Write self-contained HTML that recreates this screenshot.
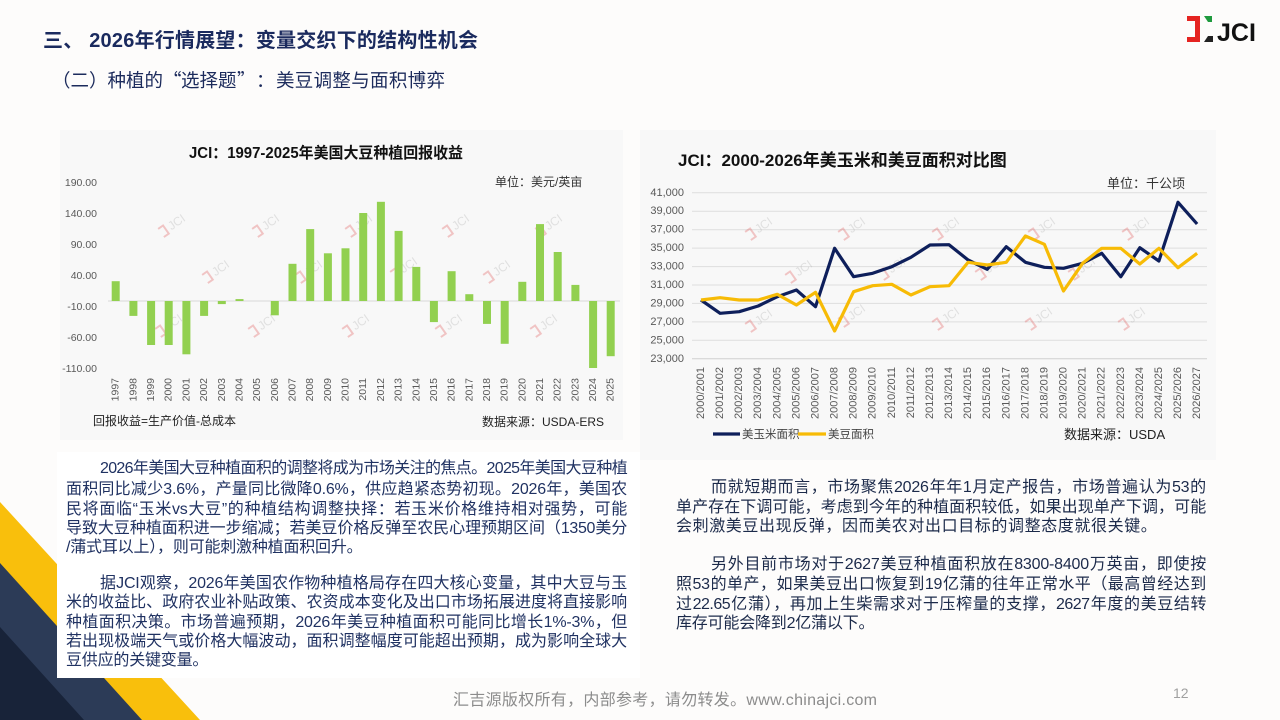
<!DOCTYPE html>
<html><head><meta charset="utf-8"><style>
html,body{margin:0;padding:0;}
body{width:1280px;height:720px;position:relative;overflow:hidden;background:#fdfcfb;font-family:"Liberation Sans","Noto Sans CJK SC",sans-serif;}
svg{position:absolute;left:0;top:0;}
.l{position:absolute;height:20px;line-height:20px;font-size:16px;white-space:nowrap;text-align:justify;text-align-last:justify;letter-spacing:-0.2px;}
.lp{left:66px;width:561px;color:#203262;}
.lpi{left:100px;width:527px;color:#203262;}
.rp{left:676px;width:530px;color:#1c2a4a;}
.rpi{left:711px;width:495px;color:#1c2a4a;}
.last{text-align-last:left;}
</style></head><body>
<svg width="1280" height="720" viewBox="0 0 1280 720" xmlns="http://www.w3.org/2000/svg" font-family="Liberation Sans, Noto Sans CJK SC, sans-serif">
<!-- decoration -->
<polygon points="0,502 200,720 0,720" fill="#f9bf0c"/>
<polygon points="0,563 142,720 0,720" fill="#2c3b57"/>
<polygon points="0,627 84,720 0,720" fill="#182339"/>
<rect x="57" y="452" width="583" height="226" fill="#ffffff"/>

<!-- header -->
<text x="43" y="47" font-size="20" font-weight="bold" fill="#1a2a5e" textLength="435" lengthAdjust="spacing">三、 2026年行情展望：变量交织下的结构性机会</text>
<g font-size="18.5" fill="#1c2b5c" font-family="Noto Sans CJK SC, Liberation Sans, sans-serif">
<text x="52" y="87">（二）种植的</text>
<text x="163" y="87">“</text>
<text x="181" y="87">选择题</text>
<text x="237" y="87">”</text>
<text x="256" y="87">：</text>
<text x="276" y="87" textLength="169" lengthAdjust="spacing">美豆调整与面积博弈</text>
</g>

<!-- logo -->
<polygon points="1187,16 1200,16 1200,42 1187,42 1187,37 1195,37 1195,21 1187,21" fill="#e52421"/>
<polygon points="1204,16 1212,16 1212,22 1208,22" fill="#1f9a3e"/>
<polygon points="1204,42 1213,42 1213,36 1208,36" fill="#222"/>
<text x="1217" y="41" font-size="25" font-weight="bold" fill="#111">JCI</text>

<!-- panels -->
<rect x="60" y="130" width="563" height="310" fill="#f8f8f8"/>
<rect x="640" y="130" width="576" height="330" fill="#f8f8f8"/>

<!-- LEFT CHART -->
<text x="189" y="158" font-size="15.5" font-weight="bold" fill="#111" textLength="274" lengthAdjust="spacingAndGlyphs">JCI：1997-2025年美国大豆种植回报收益</text>
<text x="495" y="186" font-size="12" fill="#333">单位：美元/英亩</text>
<g font-size="10.5" fill="#595959" text-anchor="end" dominant-baseline="central">
<text x="97" y="183.2">190.00</text>
<text x="97" y="214.2">140.00</text>
<text x="97" y="245.2">90.00</text>
<text x="97" y="276.2">40.00</text>
<text x="97" y="307.2">-10.00</text>
<text x="97" y="338.2">-60.00</text>
<text x="97" y="369.2">-110.00</text>
</g>
<!-- watermarks left -->
<g opacity="0.3" font-size="12" fill="#aaa">
<g transform="translate(161,233) rotate(-35)"><path d="M0,-5 h6 v10 h-6" stroke="#e05050" stroke-width="2" fill="none"/><text x="10" y="4">JCI</text></g>
<g transform="translate(255,233) rotate(-35)"><path d="M0,-5 h6 v10 h-6" stroke="#e05050" stroke-width="2" fill="none"/><text x="10" y="4">JCI</text></g>
<g transform="translate(348,233) rotate(-35)"><path d="M0,-5 h6 v10 h-6" stroke="#e05050" stroke-width="2" fill="none"/><text x="10" y="4">JCI</text></g>
<g transform="translate(445,233) rotate(-35)"><path d="M0,-5 h6 v10 h-6" stroke="#e05050" stroke-width="2" fill="none"/><text x="10" y="4">JCI</text></g>
<g transform="translate(538,233) rotate(-35)"><path d="M0,-5 h6 v10 h-6" stroke="#e05050" stroke-width="2" fill="none"/><text x="10" y="4">JCI</text></g>
<g transform="translate(205,279) rotate(-35)"><path d="M0,-5 h6 v10 h-6" stroke="#e05050" stroke-width="2" fill="none"/><text x="10" y="4">JCI</text></g>
<g transform="translate(298,279) rotate(-35)"><path d="M0,-5 h6 v10 h-6" stroke="#e05050" stroke-width="2" fill="none"/><text x="10" y="4">JCI</text></g>
<g transform="translate(393,276) rotate(-35)"><path d="M0,-5 h6 v10 h-6" stroke="#e05050" stroke-width="2" fill="none"/><text x="10" y="4">JCI</text></g>
<g transform="translate(486,279) rotate(-35)"><path d="M0,-5 h6 v10 h-6" stroke="#e05050" stroke-width="2" fill="none"/><text x="10" y="4">JCI</text></g>
<g transform="translate(158,333) rotate(-35)"><path d="M0,-5 h6 v10 h-6" stroke="#e05050" stroke-width="2" fill="none"/><text x="10" y="4">JCI</text></g>
<g transform="translate(251,333) rotate(-35)"><path d="M0,-5 h6 v10 h-6" stroke="#e05050" stroke-width="2" fill="none"/><text x="10" y="4">JCI</text></g>
<g transform="translate(345,333) rotate(-35)"><path d="M0,-5 h6 v10 h-6" stroke="#e05050" stroke-width="2" fill="none"/><text x="10" y="4">JCI</text></g>
<g transform="translate(438,333) rotate(-35)"><path d="M0,-5 h6 v10 h-6" stroke="#e05050" stroke-width="2" fill="none"/><text x="10" y="4">JCI</text></g>
<g transform="translate(533,333) rotate(-35)"><path d="M0,-5 h6 v10 h-6" stroke="#e05050" stroke-width="2" fill="none"/><text x="10" y="4">JCI</text></g>
</g>
<line x1="108" y1="301" x2="620" y2="301" stroke="#d9d9d9" stroke-width="1"/>
<g fill="#92d050">
<rect x="111.7" y="281.2" width="8" height="19.8"/>
<rect x="129.4" y="301" width="8" height="14.9"/>
<rect x="147.1" y="301" width="8" height="44"/>
<rect x="164.7" y="301" width="8" height="44"/>
<rect x="182.4" y="301" width="8" height="53.3"/>
<rect x="200.1" y="301" width="8" height="14.9"/>
<rect x="217.8" y="301" width="8" height="3.1"/>
<rect x="235.5" y="299.1" width="8" height="1.9"/>
<rect x="270.8" y="301" width="8" height="14.3"/>
<rect x="288.5" y="263.8" width="8" height="37.2"/>
<rect x="306.2" y="229.1" width="8" height="71.9"/>
<rect x="323.9" y="253.3" width="8" height="47.7"/>
<rect x="341.5" y="248.3" width="8" height="52.7"/>
<rect x="359.2" y="213" width="8" height="88"/>
<rect x="376.9" y="201.8" width="8" height="99.2"/>
<rect x="394.6" y="230.9" width="8" height="70.1"/>
<rect x="412.3" y="266.9" width="8" height="34.1"/>
<rect x="429.9" y="301" width="8" height="21.1"/>
<rect x="447.6" y="271.2" width="8" height="29.8"/>
<rect x="465.3" y="294.2" width="8" height="6.8"/>
<rect x="483" y="301" width="8" height="22.9"/>
<rect x="500.7" y="301" width="8" height="42.8"/>
<rect x="518.3" y="281.8" width="8" height="19.2"/>
<rect x="536" y="224.1" width="8" height="76.9"/>
<rect x="553.7" y="252" width="8" height="49"/>
<rect x="571.4" y="284.9" width="8" height="16.1"/>
<rect x="589.1" y="301" width="8" height="67"/>
<rect x="606.7" y="301" width="8" height="55.2"/>
</g>
<g font-size="10.5" fill="#595959" text-anchor="end" dominant-baseline="central">
<text transform="translate(115.7,378) rotate(-90)">1997</text>
<text transform="translate(133.4,378) rotate(-90)">1998</text>
<text transform="translate(151.1,378) rotate(-90)">1999</text>
<text transform="translate(168.7,378) rotate(-90)">2000</text>
<text transform="translate(186.4,378) rotate(-90)">2001</text>
<text transform="translate(204.1,378) rotate(-90)">2002</text>
<text transform="translate(221.8,378) rotate(-90)">2003</text>
<text transform="translate(239.5,378) rotate(-90)">2004</text>
<text transform="translate(257.1,378) rotate(-90)">2005</text>
<text transform="translate(274.8,378) rotate(-90)">2006</text>
<text transform="translate(292.5,378) rotate(-90)">2007</text>
<text transform="translate(310.2,378) rotate(-90)">2008</text>
<text transform="translate(327.9,378) rotate(-90)">2009</text>
<text transform="translate(345.5,378) rotate(-90)">2010</text>
<text transform="translate(363.2,378) rotate(-90)">2011</text>
<text transform="translate(380.9,378) rotate(-90)">2012</text>
<text transform="translate(398.6,378) rotate(-90)">2013</text>
<text transform="translate(416.3,378) rotate(-90)">2014</text>
<text transform="translate(433.9,378) rotate(-90)">2015</text>
<text transform="translate(451.6,378) rotate(-90)">2016</text>
<text transform="translate(469.3,378) rotate(-90)">2017</text>
<text transform="translate(487,378) rotate(-90)">2018</text>
<text transform="translate(504.7,378) rotate(-90)">2019</text>
<text transform="translate(522.3,378) rotate(-90)">2020</text>
<text transform="translate(540,378) rotate(-90)">2021</text>
<text transform="translate(557.7,378) rotate(-90)">2022</text>
<text transform="translate(575.4,378) rotate(-90)">2023</text>
<text transform="translate(593.1,378) rotate(-90)">2024</text>
<text transform="translate(610.7,378) rotate(-90)">2025</text>
</g>
<text x="93" y="425" font-size="12" fill="#222">回报收益=生产价值-总成本</text>
<text x="482" y="426" font-size="12" fill="#222">数据来源：USDA-ERS</text>

<!-- RIGHT CHART -->
<text x="678" y="166" font-size="17" font-weight="bold" fill="#111">JCI：2000-2026年美玉米和美豆面积对比图</text>
<text x="1107" y="188" font-size="13" fill="#333">单位：千公顷</text>
<g stroke="#dedede" stroke-width="1">
<line x1="692" y1="192.8" x2="1207" y2="192.8"/>
<line x1="692" y1="211.2" x2="1207" y2="211.2"/>
<line x1="692" y1="229.7" x2="1207" y2="229.7"/>
<line x1="692" y1="248.1" x2="1207" y2="248.1"/>
<line x1="692" y1="266.6" x2="1207" y2="266.6"/>
<line x1="692" y1="285" x2="1207" y2="285"/>
<line x1="692" y1="303.4" x2="1207" y2="303.4"/>
<line x1="692" y1="321.9" x2="1207" y2="321.9"/>
<line x1="692" y1="340.3" x2="1207" y2="340.3"/>
<line x1="692" y1="358.8" x2="1207" y2="358.8" stroke="#cfcfcf"/>
</g>
<g font-size="11" fill="#595959" text-anchor="end" dominant-baseline="central">
<text x="684" y="192.8">41,000</text>
<text x="684" y="211.2">39,000</text>
<text x="684" y="229.7">37,000</text>
<text x="684" y="248.1">35,000</text>
<text x="684" y="266.6">33,000</text>
<text x="684" y="285">31,000</text>
<text x="684" y="303.4">29,000</text>
<text x="684" y="321.9">27,000</text>
<text x="684" y="340.3">25,000</text>
<text x="684" y="358.8">23,000</text>
</g>
<!-- watermarks right -->
<g opacity="0.3" font-size="12" fill="#aaa">
<g transform="translate(748,236) rotate(-35)"><path d="M0,-5 h6 v10 h-6" stroke="#e05050" stroke-width="2" fill="none"/><text x="10" y="4">JCI</text></g>
<g transform="translate(841,236) rotate(-35)"><path d="M0,-5 h6 v10 h-6" stroke="#e05050" stroke-width="2" fill="none"/><text x="10" y="4">JCI</text></g>
<g transform="translate(935,236) rotate(-35)"><path d="M0,-5 h6 v10 h-6" stroke="#e05050" stroke-width="2" fill="none"/><text x="10" y="4">JCI</text></g>
<g transform="translate(1031,236) rotate(-35)"><path d="M0,-5 h6 v10 h-6" stroke="#e05050" stroke-width="2" fill="none"/><text x="10" y="4">JCI</text></g>
<g transform="translate(1125,236) rotate(-35)"><path d="M0,-5 h6 v10 h-6" stroke="#e05050" stroke-width="2" fill="none"/><text x="10" y="4">JCI</text></g>
<g transform="translate(788,279) rotate(-35)"><path d="M0,-5 h6 v10 h-6" stroke="#e05050" stroke-width="2" fill="none"/><text x="10" y="4">JCI</text></g>
<g transform="translate(881,276) rotate(-35)"><path d="M0,-5 h6 v10 h-6" stroke="#e05050" stroke-width="2" fill="none"/><text x="10" y="4">JCI</text></g>
<g transform="translate(978,276) rotate(-35)"><path d="M0,-5 h6 v10 h-6" stroke="#e05050" stroke-width="2" fill="none"/><text x="10" y="4">JCI</text></g>
<g transform="translate(1071,276) rotate(-35)"><path d="M0,-5 h6 v10 h-6" stroke="#e05050" stroke-width="2" fill="none"/><text x="10" y="4">JCI</text></g>
<g transform="translate(748,328) rotate(-35)"><path d="M0,-5 h6 v10 h-6" stroke="#e05050" stroke-width="2" fill="none"/><text x="10" y="4">JCI</text></g>
<g transform="translate(841,323) rotate(-35)"><path d="M0,-5 h6 v10 h-6" stroke="#e05050" stroke-width="2" fill="none"/><text x="10" y="4">JCI</text></g>
<g transform="translate(935,326) rotate(-35)"><path d="M0,-5 h6 v10 h-6" stroke="#e05050" stroke-width="2" fill="none"/><text x="10" y="4">JCI</text></g>
<g transform="translate(1028,326) rotate(-35)"><path d="M0,-5 h6 v10 h-6" stroke="#e05050" stroke-width="2" fill="none"/><text x="10" y="4">JCI</text></g>
<g transform="translate(1121,326) rotate(-35)"><path d="M0,-5 h6 v10 h-6" stroke="#e05050" stroke-width="2" fill="none"/><text x="10" y="4">JCI</text></g>
</g>
<polyline fill="none" stroke="#0e1f5b" stroke-width="3.2" stroke-linejoin="round" points="701,300 720.1,313.3 739.2,311.7 758.2,306 777.3,296.7 796.4,290 815.5,306.7 834.6,248.3 853.6,276.7 872.7,273.3 891.8,266.7 910.9,257.3 930,245 949,244.7 968.1,260 987.2,269.3 1006.3,246.7 1025.4,262.3 1044.4,267.3 1063.5,268.3 1082.6,263.3 1101.7,253.3 1120.8,276.7 1139.8,247.7 1158.9,261 1178,202.3 1197.1,224"/>
<polyline fill="none" stroke="#f7bb06" stroke-width="3.2" stroke-linejoin="round" points="701,300 720.1,297.7 739.2,300 758.2,300 777.3,294.3 796.4,305 815.5,292.3 834.6,331 853.6,291.7 872.7,285.7 891.8,284.3 910.9,295 930,286.7 949,285.7 968.1,262.3 987.2,265 1006.3,262.3 1025.4,236 1044.4,244.3 1063.5,291 1082.6,263.3 1101.7,248.3 1120.8,248.3 1139.8,264 1158.9,248.3 1178,267.7 1197.1,253.3"/>
<g font-size="11" fill="#595959" text-anchor="end" dominant-baseline="central">
<text transform="translate(701,367) rotate(-90)">2000/2001</text>
<text transform="translate(720.1,367) rotate(-90)">2001/2002</text>
<text transform="translate(739.2,367) rotate(-90)">2002/2003</text>
<text transform="translate(758.2,367) rotate(-90)">2003/2004</text>
<text transform="translate(777.3,367) rotate(-90)">2004/2005</text>
<text transform="translate(796.4,367) rotate(-90)">2005/2006</text>
<text transform="translate(815.5,367) rotate(-90)">2006/2007</text>
<text transform="translate(834.6,367) rotate(-90)">2007/2008</text>
<text transform="translate(853.6,367) rotate(-90)">2008/2009</text>
<text transform="translate(872.7,367) rotate(-90)">2009/2010</text>
<text transform="translate(891.8,367) rotate(-90)">2010/2011</text>
<text transform="translate(910.9,367) rotate(-90)">2011/2012</text>
<text transform="translate(930,367) rotate(-90)">2012/2013</text>
<text transform="translate(949,367) rotate(-90)">2013/2014</text>
<text transform="translate(968.1,367) rotate(-90)">2014/2015</text>
<text transform="translate(987.2,367) rotate(-90)">2015/2016</text>
<text transform="translate(1006.3,367) rotate(-90)">2016/2017</text>
<text transform="translate(1025.4,367) rotate(-90)">2017/2018</text>
<text transform="translate(1044.4,367) rotate(-90)">2018/2019</text>
<text transform="translate(1063.5,367) rotate(-90)">2019/2020</text>
<text transform="translate(1082.6,367) rotate(-90)">2020/2021</text>
<text transform="translate(1101.7,367) rotate(-90)">2021/2022</text>
<text transform="translate(1120.8,367) rotate(-90)">2022/2023</text>
<text transform="translate(1139.8,367) rotate(-90)">2023/2024</text>
<text transform="translate(1158.9,367) rotate(-90)">2024/2025</text>
<text transform="translate(1178,367) rotate(-90)">2025/2026</text>
<text transform="translate(1197.1,367) rotate(-90)">2026/2027</text>
</g>
<line x1="713" y1="434" x2="740" y2="434" stroke="#0e1f5b" stroke-width="3.2"/>
<text x="742" y="438" font-size="11.5" fill="#444">美玉米面积</text>
<line x1="798" y1="434" x2="826" y2="434" stroke="#f7bb06" stroke-width="3.2"/>
<text x="828" y="438" font-size="11.5" fill="#444">美豆面积</text>
<text x="1064" y="439" font-size="13" fill="#222">数据来源：USDA</text>

<!-- footer -->
<text x="453" y="705" font-size="16" fill="#8c8c8c" textLength="424" lengthAdjust="spacing">汇吉源版权所有，内部参考，请勿转发。www.chinajci.com</text>
<text x="1173" y="698" font-size="14" fill="#a0a0a0">12</text>
</svg>

<div class="l lpi" style="top:459px;letter-spacing:-0.7px">2026年美国大豆种植面积的调整将成为市场关注的焦点。2025年美国大豆种植</div>
<div class="l lp" style="top:480px">面积同比减少3.6%，产量同比微降0.6%，供应趋紧态势初现。2026年，美国农</div>
<div class="l lp" style="top:499.5px">民将面临“玉米vs大豆”的种植结构调整抉择：若玉米价格维持相对强势，可能</div>
<div class="l lp" style="top:518.5px;letter-spacing:-0.35px">导致大豆种植面积进一步缩减；若美豆价格反弹至农民心理预期区间（1350美分</div>
<div class="l lp last" style="top:537.5px">/蒲式耳以上），则可能刺激种植面积回升。</div>

<div class="l lpi" style="top:574px">据JCI观察，2026年美国农作物种植格局存在四大核心变量，其中大豆与玉</div>
<div class="l lp" style="top:593px">米的收益比、政府农业补贴政策、农资成本变化及出口市场拓展进度将直接影响</div>
<div class="l lp" style="top:613px">种植面积决策。市场普遍预期，2026年美豆种植面积可能同比增长1%-3%，但</div>
<div class="l lp" style="top:632px">若出现极端天气或价格大幅波动，面积调整幅度可能超出预期，成为影响全球大</div>
<div class="l lp last" style="top:651px">豆供应的关键变量。</div>

<div class="l rpi" style="top:478px">而就短期而言，市场聚焦2026年年1月定产报告，市场普遍认为53的</div>
<div class="l rp" style="top:498px">单产存在下调可能，考虑到今年的种植面积较低，如果出现单产下调，可能</div>
<div class="l rp last" style="top:517px;letter-spacing:0.6px">会刺激美豆出现反弹，因而美农对出口目标的调整态度就很关键。</div>

<div class="l rpi" style="top:555px">另外目前市场对于2627美豆种植面积放在8300-8400万英亩，即使按</div>
<div class="l rp" style="top:575px">照53的单产，如果美豆出口恢复到19亿蒲的往年正常水平（最高曾经达到</div>
<div class="l rp" style="top:595px;letter-spacing:-0.5px">过22.65亿蒲），再加上生柴需求对于压榨量的支撑，2627年度的美豆结转</div>
<div class="l rp last" style="top:614px">库存可能会降到2亿蒲以下。</div>
</body></html>
